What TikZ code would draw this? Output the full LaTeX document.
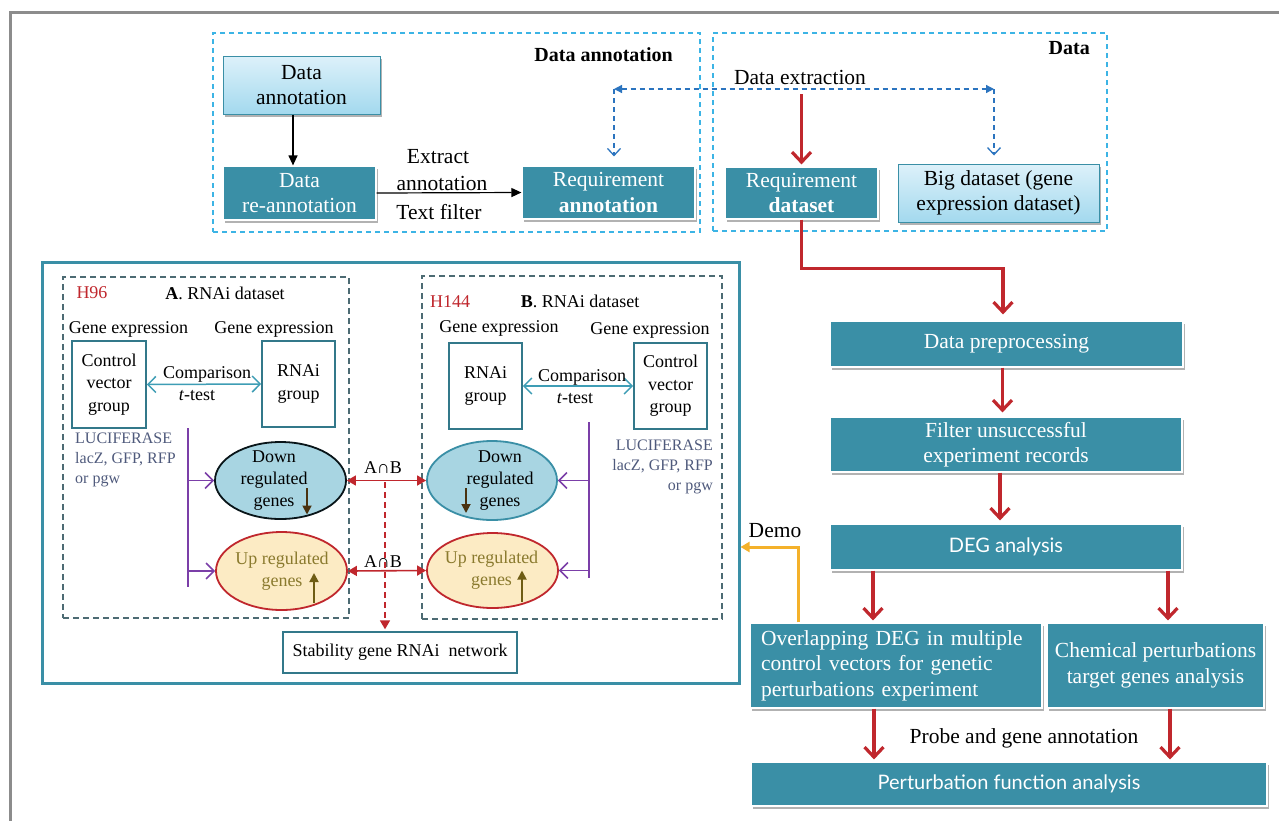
\documentclass[tikz,border=0pt]{standalone}
\usepackage{fontspec}
\setmainfont{Liberation Serif}
\newfontfamily\gillfam{Lato}
\usetikzlibrary{arrows.meta,shadows,shapes.geometric,calc}
\definecolor{teal1}{HTML}{3A8FA6}
\definecolor{tealdark}{HTML}{33788A}
\definecolor{lbA}{HTML}{DDF1FA}
\definecolor{lbB}{HTML}{A3D9EE}
\definecolor{redA}{HTML}{C0272D}
\definecolor{dashblue}{HTML}{3CB4E5}
\definecolor{arrblue}{HTML}{2B74BF}
\definecolor{framegray}{HTML}{8C8C8C}
\definecolor{grayteal}{HTML}{4D6B73}
\definecolor{downfill}{HTML}{A8D5E2}
\definecolor{upfill}{HTML}{FCEBC4}
\definecolor{oliveT}{HTML}{8A7A2E}
\definecolor{slate}{HTML}{4F5A7C}
\definecolor{purp}{HTML}{7B3FA8}
\definecolor{brownA}{HTML}{4A3210}
\definecolor{oliveA}{HTML}{6E5C14}
\definecolor{orangeA}{HTML}{F4B12A}
\definecolor{cmpteal}{HTML}{3E9DB5}
\newcommand\fbig{\fontsize{21.5pt}{25.5pt}\selectfont}
\newcommand\fmid{\fontsize{18pt}{22pt}\selectfont}
\newcommand\fsmall{\fontsize{16pt}{20pt}\selectfont}
\newcommand\fsans{\fontsize{20pt}{24pt}\selectfont\gillfam}
\begin{document}
\begin{tikzpicture}[x=1pt,y=-1pt,
  tbox/.style={draw=white, line width=1.2pt, fill=teal1, text=white, align=center, inner sep=2pt,
    drop shadow={shadow xshift=1.5pt, shadow yshift=-2.5pt, fill=black, opacity=0.3}, font=\fbig},
  lbox/.style={draw=teal1, line width=1pt, top color=lbA, bottom color=lbB, text=black, align=center, inner sep=2pt,
    drop shadow={shadow xshift=1.5pt, shadow yshift=-2.5pt, fill=black, opacity=0.3}, font=\fbig},
  gbox/.style={draw=tealdark, line width=1.6pt, fill=white, align=center, inner sep=1pt, font=\fmid},
  region/.style={draw=dashblue, line width=1.4pt, dash pattern=on 5pt off 4pt, inner sep=0},
  dregion/.style={draw=grayteal, line width=1.4pt, dash pattern=on 6pt off 4pt, inner sep=0},
  redarr/.style={draw=redA, line width=3.2pt, -{Straight Barb[length=10pt,width=19pt,line width=3.2pt]}},
  blkarr/.style={draw=black, line width=1.2pt, -{Triangle[length=10pt,width=9pt]}},
  bluedash/.style={draw=arrblue, line width=1.3pt, dash pattern=on 5pt off 4pt},
  cmparr/.style={draw=cmpteal, line width=1.5pt, {Straight Barb[length=8pt,width=16pt,line width=1.5pt]}-{Straight Barb[length=8pt,width=16pt,line width=1.5pt]}},
  purarr/.style={draw=purp, line width=1.5pt, -{Straight Barb[length=8pt,width=16pt,line width=1.5pt]}},
  abarr/.style={draw=redA, line width=1.6pt, {Triangle[length=9pt,width=10pt]}-{Triangle[length=9pt,width=10pt]}},
  ell/.style={ellipse, inner sep=0, line width=1.8pt},
  txt/.style={inner sep=0, align=center},
  brarr/.style={line width=1.8pt, -{Triangle[length=9pt,width=9pt]}}
]
\useasboundingbox (0,0) rectangle (1279,820);
\fill[white] (0,0) rectangle (1279,820);
% outer frame
\draw[framegray, line width=3pt] (10,822) -- (10,12) -- (1281,12);

% top regions
\node[region, minimum width=487pt, minimum height=199pt] (regA) at (456.5,132.5) {};
\node[region, minimum width=394pt, minimum height=198pt] (regD) at (910,132) {};
\node[txt, anchor=east, font=\fontsize{20pt}{24pt}\selectfont\bfseries] (lblA) at (673,55) {Data annotation};
\node[txt, anchor=east, font=\fontsize{20pt}{24pt}\selectfont\bfseries] (lblD) at (1090,48) {Data};

\node[lbox, minimum width=157pt, minimum height=58pt] (dann) at (301.5,85) {Data\\annotation};
\node[tbox, minimum width=153pt, minimum height=54pt] (rean) at (299.5,193) {Data\\re-annotation};
\node[tbox, minimum width=173pt, minimum height=53pt] (reqann) at (608.5,192.5) {Requirement\\\textbf{annotation}};
\node[tbox, minimum width=153pt, minimum height=52pt] (reqds) at (801.5,193) {Requirement\\\textbf{dataset}};
\node[lbox, minimum width=201pt, minimum height=58pt] (big) at (998.5,193) {Big dataset (gene\\expression dataset)};

\draw[blkarr] ([xshift=-8.5pt]dann.south) -- ([xshift=-8.5pt]dann.south |- rean.north);
\draw[blkarr] (rean.east) -- (reqann.west);
\node[txt, font=\fbig] (ex1) at (438,157) {Extract};
\node[txt, font=\fbig] (ex2) at (442,183) {annotation};
\node[txt, font=\fbig] (ex3) at (439,212) {Text filter};

\coordinate (dl) at (614,89);
\coordinate (dr) at (994,89);
\coordinate (dx) at (801.5,94);
\draw[bluedash, {Triangle[length=8pt,width=8pt]}-{Triangle[length=8pt,width=8pt]}] (dl) -- (dr);
\draw[bluedash, -{Straight Barb[length=7pt,width=13pt,line width=1.3pt]}, shorten >=9pt] (dl) -- (dl |- reqann.north);
\draw[bluedash, -{Straight Barb[length=7pt,width=13pt,line width=1.3pt]}, shorten >=8pt] (dr) -- (dr |- big.north);
\node[txt, font=\fbig] (dext) at (800,77) {Data extraction};
\draw[redarr, shorten >=2pt] (dx) -- (reqds.north);

% right flow
\node[tbox, minimum width=353pt, minimum height=46pt] (prep) at (1006.5,344) {Data preprocessing};
\node[tbox, minimum width=352pt, minimum height=55pt] (filt) at (1006,444.5) {Filter unsuccessful\\experiment records};
\node[tbox, minimum width=352pt, minimum height=46pt, font=\fsans] (deg) at (1006,547) {DEG analysis};
\node[tbox, minimum width=292pt, minimum height=85pt, text width=270pt, align=left] (ovl) at (896,665.5) {Overlapping DEG in multiple\\control vectors for genetic\\perturbations experiment};
\node[tbox, minimum width=217pt, minimum height=85pt] (chem) at (1155.5,665.5) {Chemical perturbations\\target genes analysis};
\node[tbox, minimum width=516pt, minimum height=44pt, font=\fsans] (pert) at (1009,784) {Perturbation function analysis};

\draw[redarr, shorten >=6pt] (reqds.south) -- ++(0,49) -| ([xshift=-3.5pt]prep.north);
\draw[redarr, shorten >=4pt] ([xshift=-4pt]prep.south) -- ([xshift=-4pt]prep.south |- filt.north);
\draw[redarr, shorten >=3pt] ([xshift=-6pt]filt.south) -- ([xshift=-6pt]filt.south |- deg.north);
\draw[redarr, shorten >=2pt] ([xshift=-133pt]deg.south) -- ([xshift=-133pt]deg.south |- ovl.north);
\draw[redarr, shorten >=2pt] ([xshift=162pt]deg.south) -- ([xshift=162pt]deg.south |- chem.north);
\draw[redarr, shorten >=2pt] ([xshift=-22pt]ovl.south) -- ([xshift=-22pt]ovl.south |- pert.north);
\draw[redarr, shorten >=2pt] ([xshift=14.5pt]chem.south) -- ([xshift=14.5pt]chem.south |- pert.north);
\node[txt, font=\fbig] (probe) at (1024,738) {Probe and gene annotation};

% left panel
\node[draw=teal1, line width=3pt, minimum width=697pt, minimum height=421pt, inner sep=0] (bigbox) at (390.5,472.5) {};
\draw[draw=orangeA, line width=3pt, -{Triangle[length=9pt,width=10pt]}] ([xshift=-98pt]ovl.north) |- ([yshift=-74.5pt]bigbox.east);
\node[txt, font=\fbig] (demo) at (775,531) {Demo};

\node[dregion, minimum width=286pt, minimum height=341pt] (dsA) at (206,447.5) {};
\node[dregion, minimum width=300pt, minimum height=343pt] (dsB) at (572,447.5) {};

% A side
\node[txt, font=\fmid, text=redA] (h96) at (92,293) {H96};
\node[txt, font=\fmid] (tA) at (225,293) {\textbf{A}. RNAi dataset};
\node[txt, font=\fmid] (geA1) at (128.5,329) {Gene expression};
\node[txt, font=\fmid] (geA2) at (274,329) {Gene expression};
\node[gbox, minimum width=74pt, minimum height=87pt, font=\fontsize{18pt}{22.5pt}\selectfont] (ctlA) at (109,384.5) {Control\\vector\\group};
\node[gbox, minimum width=73pt, minimum height=86pt, font=\fontsize{18pt}{22.5pt}\selectfont] (rnaA) at (298.5,384) {RNAi\\group};
\draw[cmparr] (ctlA.east) -- (rnaA.west);
\node[txt, font=\fmid] (cmpA) at (207,374) {Comparison};
\node[txt, font=\fmid] (ttA) at (197,396) {\textit{t}-test};
\node[txt, anchor=north west, align=left, font=\fsmall, text=slate] (lucA) at (75,433) {LUCIFERASE\\lacZ, GFP, RFP\\or pgw};

\node[ell, draw=black!85!teal1, fill=downfill, minimum width=131pt, minimum height=77pt] (downA) at (280.5,480.5) {};
\node[txt, font=\fmid] (downAt) at (274,480.5) {Down\\regulated\\genes};
\node[ell, draw=redA, fill=upfill, minimum width=131pt, minimum height=78pt] (upA) at (281.5,571) {};
\node[txt, font=\fmid, text=oliveT] (upAt) at (282,571) {Up regulated\\genes};
\draw[draw=purp, line width=1.5pt] (188,428) coordinate (pAt) -- (188,587) coordinate (pAb);
\draw[purarr] (pAt |- downA.west) -- (downA.west);
\draw[purarr] (pAt |- upA.west) -- (upA.west);
\draw[brarr, draw=brownA, fill=brownA] ([xshift=26.5pt,yshift=-7.5pt]downA.center) -- ([xshift=26.5pt,yshift=-34pt]downA.center);
\draw[brarr, draw=oliveA, fill=oliveA] ([xshift=32.5pt,yshift=-32pt]upA.center) -- ([xshift=32.5pt,yshift=-2pt]upA.center);

% B side
\node[txt, font=\fmid, text=redA] (h144) at (450,302) {H144};
\node[txt, font=\fmid] (tB) at (580,301) {\textbf{B}. RNAi dataset};
\node[txt, font=\fmid] (geB1) at (499,328) {Gene expression};
\node[txt, font=\fmid] (geB2) at (650,330) {Gene expression};
\node[gbox, minimum width=73pt, minimum height=86pt, font=\fontsize{18pt}{22.5pt}\selectfont] (rnaB) at (485.5,386) {RNAi\\group};
\node[gbox, minimum width=73pt, minimum height=86pt, font=\fontsize{18pt}{22.5pt}\selectfont] (ctlB) at (670.5,386) {Control\\vector\\group};
\draw[cmparr] (rnaB.east) -- (ctlB.west);
\node[txt, font=\fmid] (cmpB) at (582,377) {Comparison};
\node[txt, font=\fmid] (ttB) at (575,399) {\textit{t}-test};
\node[txt, anchor=north east, align=right, font=\fsmall, text=slate] (lucB) at (713,440) {LUCIFERASE\\lacZ, GFP, RFP\\or pgw};

\node[ell, draw=teal1, fill=downfill, minimum width=130pt, minimum height=79pt] (downB) at (492,480.5) {};
\node[txt, font=\fmid] (downBt) at (500,480.5) {Down\\regulated\\genes};
\node[ell, draw=redA, fill=upfill, minimum width=131pt, minimum height=75pt] (upB) at (492.5,570.5) {};
\node[txt, font=\fmid, text=oliveT] (upBt) at (491.5,570.5) {Up regulated\\genes};
\draw[draw=purp, line width=1.5pt] (589,422) coordinate (pBt) -- (589,578) coordinate (pBb);
\draw[purarr] (pBt |- downB.east) -- (downB.east);
\draw[purarr] (pBt |- upB.east) -- (upB.east);
\draw[brarr, draw=brownA, fill=brownA] ([xshift=-26pt,yshift=-7.5pt]downB.center) -- ([xshift=-26pt,yshift=-32.5pt]downB.center);
\draw[brarr, draw=oliveA, fill=oliveA] ([xshift=29.5pt,yshift=-31.5pt]upB.center) -- ([xshift=29.5pt,yshift=0pt]upB.center);

% intersections
\draw[abarr] (downA.east) -- (downB.west);
\draw[abarr] (upA.east) -- (upB.west);
\node[txt, font=\fmid] (ab1) at (383,468) {A∩B};
\node[txt, font=\fmid] (ab2) at (383,562) {A∩B};
\node[draw=tealdark, line width=1.4pt, fill=white, minimum width=234pt, minimum height=41pt, inner sep=1pt, font=\fmid] (stab) at (400,652.5) {Stability gene RNAi\ \ network};
\coordinate (abd) at (385,482);
\draw[draw=redA, line width=1.6pt, dash pattern=on 6pt off 4pt, -{Triangle[length=9pt,width=10pt]}, shorten >=2pt] (abd) -- (abd |- stab.north);
\end{tikzpicture}
\end{document}
